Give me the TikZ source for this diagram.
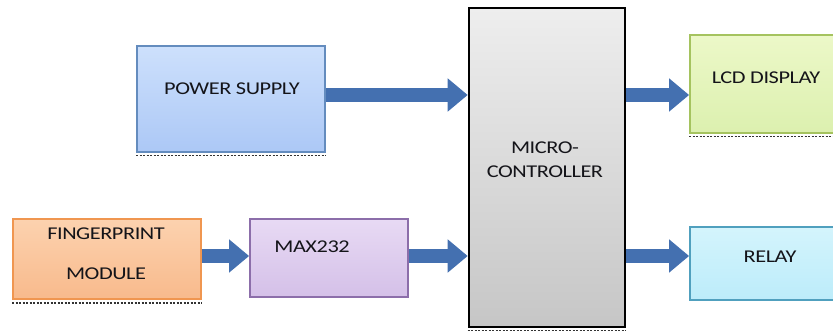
\documentclass[tikz,border=0pt]{standalone}
\usepackage{fontspec}
\setmainfont{Carlito}
\usetikzlibrary{arrows.meta}

\definecolor{arrowblue}{RGB}{68,112,176}
\definecolor{txt}{RGB}{20,20,25}

\newcommand{\wide}[1]{\scalebox{1.24}[1]{#1}}

\tikzset{
  block/.style={draw, line width=1.8pt, inner sep=0pt},
  label/.style={anchor=base, inner sep=0pt, font=\fontsize{18}{20}\selectfont\addfontfeature{LetterSpace=-2}, text=txt},
  flow/.style={draw=arrowblue, line width=14pt, -{Triangle[width=32pt,length=20pt]}},
  shadowline/.style={line width=1.2pt, dash pattern=on 2pt off 1.5pt, black!80}
}

\begin{document}
\begin{tikzpicture}[x=1pt,y=-1pt]
\useasboundingbox[fill=white] (0,0) rectangle (833,331);

% blocks
\node[block, draw={rgb,255:red,100;green,140;blue,190}, top color={rgb,255:red,205;green,224;blue,252}, bottom color={rgb,255:red,172;green,200;blue,246},
      minimum width=188pt, minimum height=106pt] (ps) at (231,99) {};
\node[label] (pst) at (232,94.5) {\wide{POWER SUPPLY}};

\node[block, draw=black, line width=2.6pt, top color={rgb,255:red,238;green,238;blue,238}, bottom color={rgb,255:red,198;green,198;blue,198},
      minimum width=156pt, minimum height=319pt] (mc) at (547,167.5) {};
\node[label] (mct1) at (545,153.5) {\wide{MICRO-}};
\node[label] (mct2) at (545,177.5) {\wide{CONTROLLER}};

\node[block, draw={rgb,255:red,165;green,195;blue,95}, top color={rgb,255:red,236;green,248;blue,200}, bottom color={rgb,255:red,220;green,240;blue,175},
      minimum width=160pt, minimum height=98pt] (lcd) at (770,84) {};
\node[label] (lcdt) at (766,83.5) {\wide{LCD DISPLAY}};

\node[block, draw={rgb,255:red,80;green,160;blue,190}, top color={rgb,255:red,212;green,244;blue,252}, bottom color={rgb,255:red,188;green,236;blue,250},
      minimum width=160pt, minimum height=73pt] (relay) at (770,263.5) {};
\node[label] (relayt) at (770,262) {\wide{RELAY}};

\node[block, draw={rgb,255:red,240;green,150;blue,80}, top color={rgb,255:red,252;green,210;blue,175}, bottom color={rgb,255:red,248;green,186;blue,140},
      minimum width=188pt, minimum height=80pt] (fp) at (107,259) {};
\node[label] (fpt1) at (106,240) {\wide{FINGERPRINT}};
\node[label] (fpt2) at (106,279.5) {\wide{MODULE}};

\node[block, draw={rgb,255:red,140;green,110;blue,170}, top color={rgb,255:red,232;green,218;blue,244}, bottom color={rgb,255:red,212;green,192;blue,232},
      minimum width=158pt, minimum height=78pt] (max) at (329,258) {};
\node[label] (maxt) at (312,253) {\wide{MAX232}};

% rows of the signal arrows
\coordinate (r1) at (0,95);
\coordinate (r2) at (0,256);

% signal flow
\draw[flow] (ps.east |- r1) -- (mc.west |- r1);
\draw[flow] (max.east |- r2) -- (mc.west |- r2);
\draw[flow] (fp.east |- r2) -- (max.west |- r2);
\draw[flow] (mc.east |- r1) -- (lcd.west |- r1);
\draw[flow] (mc.east |- r2) -- (relay.west |- r2);

% broken shadow edges below some blocks
\draw[shadowline] ([yshift=-3pt]ps.south west) -- ([yshift=-3pt]ps.south east);
\draw[shadowline] ([yshift=-3pt]lcd.south west) -- ([yshift=-3pt]lcd.south east);
\draw[shadowline] ([yshift=-3pt]fp.south west) -- ([yshift=-3pt]fp.south east);
\draw[shadowline] ([yshift=-2pt]mc.south west) -- ([yshift=-2pt]mc.south east);
\end{tikzpicture}
\end{document}
